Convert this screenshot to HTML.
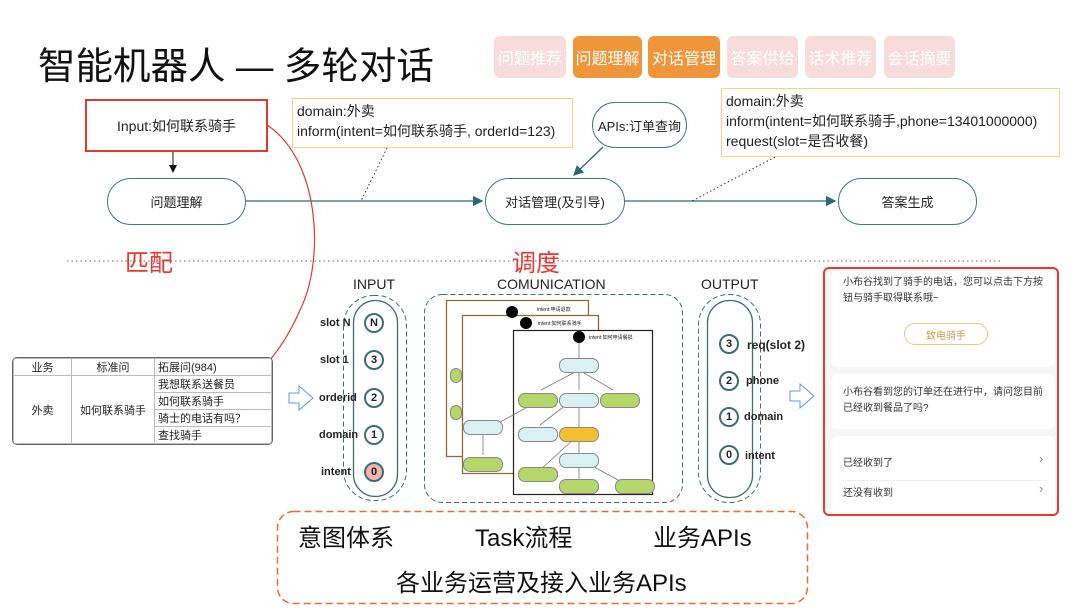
<!DOCTYPE html>
<html><head><meta charset="utf-8"><style>
*{margin:0;padding:0;box-sizing:border-box}
body{width:1080px;height:611px;background:#fff;position:relative;overflow:hidden;font-family:"Liberation Sans","Noto Sans CJK SC",sans-serif;color:#222}
.a{position:absolute}
.tag{position:absolute;top:36px;height:42px;border-radius:6px;color:#fff;font-size:16px;display:flex;align-items:center;justify-content:center}
.pk{background:#f8dcdc}.or{background:#ef953a}
.pill{position:absolute;border:1.5px solid #3d7a78;border-radius:24px;display:flex;align-items:center;justify-content:center;font-size:13px;background:#fff}
.yb{position:absolute;border:1.5px solid #f7d27a;background:#fff;font-size:14px;line-height:20px;padding:2px 4px}
.c{position:absolute;width:20px;height:20px;border:2px solid #3d6f6c;border-radius:50%;font-size:11px;font-weight:bold;display:flex;align-items:center;justify-content:center;background:#fff}
.lb{position:absolute;font-size:11px;font-weight:bold}
table{border-collapse:collapse;font-size:11px}
td{border:1px solid #bbb;padding:0 3px;height:16px}
.n{position:absolute;width:40px;height:15px;border-radius:7px;border:1px solid #888;font-size:4px}
.bl{background:#d9f1f2}.gr{background:#b6d56b}.ye{background:#f4bf2f}
</style></head><body>
<div class="a" style="left:38px;top:35px;font-size:37.5px;color:#111">智能机器人 — 多轮对话</div>
<div class="tag pk" style="left:494px;width:72px">问题推荐</div>
<div class="tag or" style="left:573px;width:69px">问题理解</div>
<div class="tag or" style="left:648px;width:72px">对话管理</div>
<div class="tag pk" style="left:727px;width:71px">答案供给</div>
<div class="tag pk" style="left:805px;width:71px">话术推荐</div>
<div class="tag pk" style="left:884px;width:71px">会话摘要</div>

<svg class="a" style="left:0;top:0" width="1080" height="611">
<defs><marker id="m" markerWidth="8" markerHeight="8" refX="7" refY="4" orient="auto"><path d="M0,0L8,4L0,8z" fill="#2e6a6a"/></marker>
<marker id="mk" markerWidth="8" markerHeight="8" refX="7" refY="4" orient="auto"><path d="M0,0L8,4L0,8z" fill="#111"/></marker>
<marker id="mr" markerWidth="10" markerHeight="10" refX="9" refY="5" orient="auto"><path d="M0,0L10,5L0,10z" fill="#e0392f"/></marker></defs>
<line x1="173" y1="151" x2="173" y2="172" stroke="#111" marker-end="url(#mk)"/>
<line x1="245" y1="201" x2="482" y2="201" stroke="#2e6a6a" stroke-width="1.3" marker-end="url(#m)"/>
<line x1="624" y1="201" x2="835" y2="201" stroke="#2e6a6a" stroke-width="1.3" marker-end="url(#m)"/>
<line x1="603" y1="147" x2="574" y2="175" stroke="#2e6a6a" stroke-width="1.3" marker-end="url(#m)"/>
<line x1="387" y1="148" x2="361" y2="201" stroke="#333" stroke-dasharray="1.5,2.5"/>
<line x1="775" y1="157" x2="692" y2="201" stroke="#333" stroke-dasharray="1.5,2.5"/>
<path d="M267,125 C320,160 325,260 300,310 C285,345 262,375 233,393" fill="none" stroke="#e0392f" stroke-width="1.2" marker-end="url(#mr)"/>
<line x1="67" y1="261" x2="1000" y2="261" stroke="#666" stroke-dasharray="1.5,3"/>
<path d="M289,393h10v-7l14,12l-14,12v-7h-10z" fill="#fff" stroke="#5b9be0"/>
<path d="M790,391h10v-7l14,12l-14,12v-7h-10z" fill="#fff" stroke="#5b9be0"/>
<rect x="343.5" y="295.5" width="63" height="205" rx="30" fill="none" stroke="#3d6f6c" stroke-dasharray="5,3"/>
<rect x="353.5" y="300.5" width="44" height="196" rx="22" fill="none" stroke="#3d6f6c" stroke-width="1.3"/>
<rect x="424.5" y="294.5" width="258" height="208" rx="18" fill="none" stroke="#3d6f6c" stroke-dasharray="5,3"/>
<rect x="698.5" y="294.5" width="62" height="208" rx="30" fill="none" stroke="#3d6f6c" stroke-dasharray="5,3"/>
<rect x="707.5" y="300.5" width="45" height="197" rx="22" fill="none" stroke="#3d6f6c" stroke-width="1.3"/>
<rect x="277.5" y="511.5" width="530" height="92" rx="16" fill="none" stroke="#ec6a34" stroke-width="1.5" stroke-dasharray="7,4"/>
<rect x="446.5" y="300.5" width="142" height="156" fill="#fff" stroke="#8b6d3a" stroke-width="1.3"/>
<rect x="462.5" y="315.5" width="136" height="158" fill="#fff" stroke="#8b6d3a" stroke-width="1.3"/>
<rect x="513.5" y="330.5" width="139" height="164" fill="#fff" stroke="#222" stroke-width="1.2"/>
<circle cx="512" cy="312" r="6"/><circle cx="526" cy="323" r="6"/><circle cx="579" cy="337" r="6"/>
<g stroke="#777" stroke-width="0.8"><line x1="579" y1="343" x2="579" y2="362"/><line x1="579" y1="370" x2="541" y2="390"/><line x1="579" y1="370" x2="579" y2="390"/><line x1="579" y1="370" x2="613" y2="390"/><line x1="579" y1="398" x2="579" y2="430"/><line x1="575" y1="398" x2="540" y2="425"/><line x1="575" y1="438" x2="540" y2="470"/><line x1="579" y1="438" x2="579" y2="455"/><line x1="579" y1="462" x2="579" y2="480"/><line x1="585" y1="462" x2="618" y2="480"/><line x1="495" y1="425" x2="540" y2="400"/><line x1="483" y1="430" x2="483" y2="455"/></g>
</svg>
<div class="n bl" style="left:559px;top:358px"></div>
<div class="n gr" style="left:518px;top:393px"></div><div class="n bl" style="left:559px;top:393px"></div><div class="n gr" style="left:600px;top:393px"></div>
<div class="n bl" style="left:518px;top:427px"></div><div class="n ye" style="left:559px;top:427px"></div>
<div class="n bl" style="left:559px;top:453px"></div><div class="n gr" style="left:518px;top:467px"></div>
<div class="n gr" style="left:559px;top:479px"></div><div class="n gr" style="left:615px;top:479px"></div>
<div class="n bl" style="left:463px;top:420px"></div><div class="n gr" style="left:463px;top:457px"></div>
<div class="n gr" style="left:450px;top:368px;width:12px"></div><div class="n gr" style="left:450px;top:405px;width:12px"></div>
<div class="a" style="left:537px;top:306px;font-size:5px">intent:申请退款</div>
<div class="a" style="left:538px;top:320px;font-size:5px">intent:如何联系骑手</div>
<div class="a" style="left:589px;top:334px;font-size:5px">intent:如何申请餐损</div>

<div class="a" style="left:85px;top:99px;width:183px;height:53px;border:2px solid #e0392f;display:flex;align-items:center;justify-content:center;font-size:14px">Input:如何联系骑手</div>
<div class="pill" style="left:107px;top:178px;width:139px;height:47px">问题理解</div>
<div class="pill" style="left:485px;top:178px;width:140px;height:47px">对话管理(及引导)</div>
<div class="pill" style="left:838px;top:178px;width:139px;height:47px">答案生成</div>
<div class="pill" style="left:592px;top:102px;width:95px;height:46px">APIs:订单查询</div>
<div class="yb" style="left:292px;top:98px;width:281px;height:50px">domain:外卖<br>inform(intent=如何联系骑手, orderId=123)</div>
<div class="yb" style="left:721px;top:88px;width:339px;height:69px">domain:外卖<br>inform(intent=如何联系骑手,phone=13401000000)<br>request(slot=是否收餐)</div>

<div class="a" style="left:125px;top:243px;font-size:24px;color:#e8392f">匹配</div>
<div class="a" style="left:512px;top:243px;font-size:24px;color:#e8392f">调度</div>

<div class="a" style="left:12px;top:357px;border:1.5px solid #666;border-radius:5px;overflow:hidden;background:#fff">
<table><tr><td style="width:58px;text-align:center">业务</td><td style="width:83px;text-align:center">标准问</td><td style="width:117px">拓展问(984)</td></tr>
<tr><td rowspan="4" style="text-align:center">外卖</td><td rowspan="4" style="text-align:center">如何联系骑手</td><td>我想联系送餐员</td></tr>
<tr><td>如何联系骑手</td></tr><tr><td>骑士的电话有吗？</td></tr><tr><td>查找骑手</td></tr></table></div>

<div class="a" style="left:353px;top:276px;font-size:14px">INPUT</div>
<div class="a" style="left:497px;top:276px;font-size:14px">COMUNICATION</div>
<div class="a" style="left:701px;top:276px;font-size:14px">OUTPUT</div>
<div class="c" style="left:364px;top:313px">N</div><div class="lb" style="left:320px;top:317px">slot N</div>
<div class="c" style="left:364px;top:350px">3</div><div class="lb" style="left:320px;top:354px">slot 1</div>
<div class="c" style="left:364px;top:388px">2</div><div class="lb" style="left:319px;top:392px">orderid</div>
<div class="c" style="left:364px;top:425px">1</div><div class="lb" style="left:319px;top:429px">domain</div>
<div class="c" style="left:364px;top:462px;background:#f4b3b0">0</div><div class="lb" style="left:321px;top:466px">intent</div>
<div class="c" style="left:719px;top:334px">3</div><div class="lb" style="left:747px;top:338px;font-size:12px">req(slot 2)</div>
<div class="c" style="left:719px;top:371px">2</div><div class="lb" style="left:746px;top:375px">phone</div>
<div class="c" style="left:719px;top:407px">1</div><div class="lb" style="left:744px;top:411px">domain</div>
<div class="c" style="left:719px;top:445px">0</div><div class="lb" style="left:745px;top:450px">intent</div>

<div class="a" style="left:823px;top:267px;width:236px;height:249px;border:2px solid #e8392f;border-radius:6px;background:#f6f6f6;overflow:hidden">
<div class="a" style="left:6px;top:2px;width:224px;height:96px;background:#fff;border-radius:6px"></div>
<div class="a" style="left:18px;top:6px;width:206px;font-size:10px;line-height:16px;color:#333">小布谷找到了骑手的电话，您可以点击下方按钮与骑手取得联系哦~</div>
<div class="a" style="left:79px;top:54px;width:84px;height:22px;border:1px solid #e6c889;border-radius:11px;font-size:10px;color:#c89a4a;display:flex;align-items:center;justify-content:center">致电骑手</div>
<div class="a" style="left:6px;top:105px;width:224px;height:55px;background:#fff;border-radius:6px"></div>
<div class="a" style="left:18px;top:116px;width:206px;font-size:10px;line-height:16px;color:#333">小布谷看到您的订单还在进行中，请问您目前已经收到餐品了吗?</div>
<div class="a" style="left:6px;top:167px;width:224px;height:80px;background:#fff;border-radius:6px"></div>
<div class="a" style="left:18px;top:185px;font-size:10px;color:#333">已经收到了</div>
<div class="a" style="left:214px;top:182px;font-size:13px;color:#888">›</div>
<div class="a" style="left:18px;top:211px;width:203px;border-top:1px solid #eee"></div>
<div class="a" style="left:18px;top:215px;font-size:10px;color:#333">还没有收到</div>
<div class="a" style="left:214px;top:212px;font-size:13px;color:#888">›</div>
</div>

<div class="a" style="left:298px;top:518px;font-size:24px;color:#111">意图体系</div>
<div class="a" style="left:475px;top:518px;font-size:24px;color:#111">Task流程</div>
<div class="a" style="left:653px;top:518px;font-size:24px;color:#111">业务APIs</div>
<div class="a" style="left:396px;top:563px;font-size:24px;color:#111">各业务运营及接入业务APIs</div>
</body></html>
